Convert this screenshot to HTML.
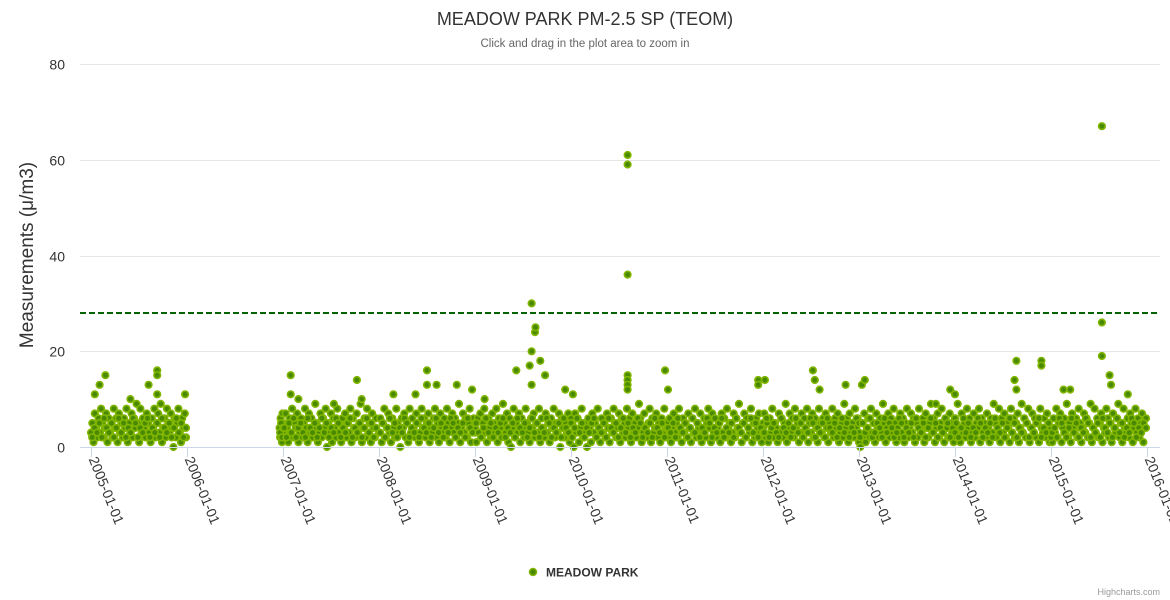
<!DOCTYPE html>
<html><head><meta charset="utf-8"><style>
html,body{margin:0;padding:0;background:#fff;}
svg{display:block;font-family:"Liberation Sans",sans-serif;}
</style></head><body>
<svg id="chart" width="1170" height="600" viewBox="0 0 1170 600" xmlns="http://www.w3.org/2000/svg">
<rect width="1170" height="600" fill="#fff"/>
<text x="585" y="25" text-anchor="middle" font-size="18" fill="#333">MEADOW PARK PM-2.5 SP (TEOM)</text>
<text x="585" y="47" text-anchor="middle" font-size="11.5" fill="#666">Click and drag in the plot area to zoom in</text>
<g id="grid"></g>
<g id="yticks"></g>
<text transform="translate(33,255) rotate(-90)" text-anchor="middle" font-size="19" fill="#333">Measurements (μ/m3)</text>
<line id="threshold" stroke="#006400" stroke-width="2" stroke-dasharray="6,3"/>
<g id="points"></g>
<line x1="80" y1="447.5" x2="1160" y2="447.5" stroke="#ccd6eb" stroke-width="1"/>
<g id="xticks"></g>
<g>
<circle cx="533" cy="572" r="3.5" fill="#4a8a00" stroke="#80b500" stroke-width="1.5"/>
<text x="546" y="576.5" font-size="12" font-weight="bold" fill="#333">MEADOW PARK</text>
</g>
<text x="1160" y="595" text-anchor="end" font-size="9" fill="#999">Highcharts.com</text>
</svg>
<script>
const yTicks = [0, 20, 40, 60, 80];
const xTickLabels = ["2005-01-01","2006-01-01","2007-01-01","2008-01-01","2009-01-01","2010-01-01","2011-01-01","2012-01-01","2013-01-01","2014-01-01","2015-01-01","2016-01-01"];
const thresholdValue = 28;
const seriesYears = [2005, 2006, 2007, 2008, 2009, 2010, 2011, 2012, 2013, 2014, 2015];
const seriesStart = [0.0, 0.965, 0.0, 0.0, 0.0, 0.0, 0.0, 0.0, 0.0, 0.0, 0.0];
const seriesEnd = [0.99, 1.0, 0.97, 1.0, 1.0, 1.0, 1.0, 1.0, 1.0, 1.0, 0.99];
const v2005 = [3,5,1,7,4,2,6,3,8,5,2,4,7,1,6,3,5,2,8,4,6,1,7,3,5,2,6,4,8,1,5,3,7,2,6,4,9,5,1,8,3,6,4,2,7,5,3,1,6,4,8,2,5,7,3,9,1,4,6,2,8,5,3,7,4,0,6,2,5,8,3,1,6,4,7,2];
const v2006 = [4,2,6,3,5,1,7,3];
const v2007 = [5,2,7,4,1,6,3,8,2,5,4,7,1,3,6,2,5,8,4,1,7,3,6,2,4,9,5,1,3,7,2,6,4,8,0,5,3,7,1,6,4,2,8,3,5,1,6,4,7,2,5,3,8,1,6,4,2,7,3,5,9,1,4,6,2,8,3,5,1,7,4,2,6];
const v2008 = [3,6,1,5,8,2,4,7,3,1,6,4,2,8,5,3,0,6,4,7,2,5,1,8,3,6,4,2,7,5,1,3,8,4,6,2,5,7,1,4,3,6,8,2,5,1,7,4,3,6,2,8,5,1,4,7,3,6,2,5,9,1,4,7,3,6,2,5,8,1,4,6,3];
const v2009 = [4,1,6,3,7,2,5,8,3,1,6,4,2,7,5,3,8,1,6,4,2,9,5,3,7,1,6,0,4,8,2,5,3,7,1,6,4,2,8,5,3,1,6,4,7,2,5,3,8,1,6,4,2,7,3,5,1,6,4,8,2,5,3,7,0,6,4,2,5,3,7,1,6];
const v2010 = [2,5,0,7,3,6,1,4,8,2,5,3,0,6,4,1,7,3,5,2,8,4,1,6,3,5,2,7,4,1,6,3,8,5,2,4,7,1,6,3,5,2,8,4,6,1,7,3,5,2,4,9,6,1,3,7,4,2,5,8,1,6,3,4,7,2,5,1,6,3,8,4,2];
const v2011 = [5,2,6,1,4,7,3,5,2,8,4,1,6,3,5,2,7,4,1,6,3,8,2,5,4,7,1,3,6,2,5,8,4,1,7,3,6,2,4,5,1,7,3,6,2,8,4,5,1,3,7,2,6,4,9,3,1,5,7,2,6,4,3,8,1,5,2,6,4,7,3,1,5];
const v2012 = [4,7,2,5,1,6,3,8,2,5,4,1,7,3,6,2,5,9,1,4,7,3,6,2,8,4,5,1,3,7,2,6,4,8,1,5,3,7,2,6,4,1,8,5,3,6,2,7,4,1,5,3,8,2,6,4,7,1,3,5,2,9,4,6,1,7,3,5,2,8,4,6,1];
const v2013 = [3,0,5,2,7,1,4,6,2,8,3,5,1,7,4,2,6,3,9,5,1,4,7,2,6,3,8,5,1,4,2,7,3,6,1,5,8,2,4,7,3,6,1,5,2,8,4,3,6,1,7,4,2,5,9,3,6,1,4,7,2,5,8,3,1,6,4,2,7,5,3,1,6];
const v2014 = [6,2,9,4,1,7,3,5,2,8,4,6,1,3,7,2,5,4,8,1,6,3,5,2,7,4,1,6,3,9,5,2,4,8,1,6,3,7,2,5,4,1,8,3,6,2,5,7,1,4,9,3,6,2,5,8,1,4,7,3,6,2,5,1,8,4,3,6,2,7,5,1,4];
const v2015 = [4,1,6,3,8,2,5,7,1,4,6,3,9,2,5,1,7,4,3,6,2,8,5,1,4,7,3,6,2,5,9,1,4,8,3,6,2,5,7,1,4,3,8,6,2,5,1,7,4,3,6,9,2,5,1,8,4,3,6,2,7,5,1,4,8,3,6,2,5,7,1,4,6];
const yearValues = [v2005, v2006, v2007, v2008, v2009, v2010, v2011, v2012, v2013, v2014, v2015];
const w2005 = [2,4,3,5,2,6,4,3,5,2,4,6,3,5,2,4,3,6,5,2,4,3,5,6,2,4,3,5,2,6,4,3,5,2,4,6,3,5,2,4];
const w2006 = [3,5,2,4];
const w2007 = [4,2,5,3,6,2,4,5,3,2,6,4,3,5,2,4,6,3,5,2,4,3,6,5,2,4,3,5,6,2,4,3,5,2,4,6,3,5,2,4];
const w2008 = [3,5,2,4,6,3,5,2,4,3,6,5,2,4,3,5,2,6,4,3,5,2,4,6,3,5,2,4,3,6,5,2,4,3,5,2,6,4,3,5];
const w2009 = [5,3,2,4,6,3,5,2,4,3,5,6,2,4,3,5,2,6,4,3,5,2,4,6,3,5,2,4,3,6,5,2,4,3,5,2,6,4,3,5];
const w2010 = [2,4,6,3,5,2,4,3,5,6,2,4,3,5,2,6,4,3,5,2,4,6,3,5,2,4,3,6,5,2,4,3,5,2,6,4,3,5,2,4];
const w2011 = [4,3,5,2,6,4,3,5,2,4,6,3,5,2,4,3,6,5,2,4,3,5,6,2,4,3,5,2,6,4,3,5,2,4,6,3,5,2,4,3];
const w2012 = [3,6,2,4,5,3,2,6,4,3,5,2,4,6,3,5,2,4,3,6,5,2,4,3,5,2,6,4,3,5,2,4,6,3,5,2,4,3,6,5];
const w2013 = [2,5,3,4,6,2,3,5,4,2,6,3,5,4,2,3,6,5,2,4,3,5,2,6,4,3,5,2,4,6,3,5,2,4,3,6,5,2,4,3];
const w2014 = [5,2,4,6,3,5,2,4,3,6,5,2,4,3,5,2,6,4,3,5,2,4,6,3,5,2,4,3,6,5,2,4,3,5,6,2,4,3,5,2];
const w2015 = [3,4,2,6,5,3,2,4,6,3,5,2,4,3,6,5,2,4,3,5,2,6,4,3,5,2,4,6,3,5,2,4,3,6,5,2,4,3,5,4];
const extraValues = [w2005, w2006, w2007, w2008, w2009, w2010, w2011, w2012, w2013, w2014, w2015];
const spikeDates = [2005.04,2005.09,2005.15,2005.41,2005.6,2005.69,2005.69,2005.69,2005.98,2007.08,2007.08,2007.16,2007.53,2007.77,2007.82,2008.15,2008.38,2008.5,2008.5,2008.6,2008.81,2008.97,2009.10,2009.43,2009.57,2009.59,2009.59,2009.59,2009.625,2009.63,2009.68,2009.73,2009.94,2010.02,2010.59,2010.59,2010.59,2010.59,2010.59,2010.59,2010.59,2010.98,2011.01,2011.95,2011.95,2012.02,2012.52,2012.54,2012.59,2012.86,2013.03,2013.06,2013.8,2013.95,2014.0,2014.62,2014.64,2014.64,2014.9,2014.9,2015.13,2015.2,2015.53,2015.53,2015.53,2015.61,2015.625,2015.8];
const spikeValues = [11,13,15,10,13,16,15,11,11,15,11,10,9,14,10,11,11,16,13,13,13,12,10,16,17,30,20,13,24,25,18,15,12,11,61,59,36,15,14,13,12,16,12,14,13,14,16,14,12,13,13,14,9,12,11,14,18,12,18,17,12,12,67,26,19,15,13,11];

const NS = "http://www.w3.org/2000/svg";
const plotLeft = 80, plotRight = 1160, yZero = 447, yTop = 64, yMax = 80;
function yScale(v){ return yZero - v / yMax * (yZero - yTop); }
function xScale(t){ return 91 + (t - 2005) * 96.0; }

const grid = document.getElementById('grid');
const yt = document.getElementById('yticks');
yTicks.forEach(v => {
  const y = Math.round(yScale(v)) + 0.5;
  if (v > 0) {
    const l = document.createElementNS(NS, 'line');
    l.setAttribute('x1', plotLeft); l.setAttribute('x2', plotRight);
    l.setAttribute('y1', y); l.setAttribute('y2', y);
    l.setAttribute('stroke', '#e6e6e6');
    
    
    grid.appendChild(l);
  }
  const t = document.createElementNS(NS, 'text');
  t.setAttribute('x', 65); t.setAttribute('y', y + 5);
  t.setAttribute('text-anchor', 'end');
  t.setAttribute('font-size', '14'); t.setAttribute('fill', '#333');
  t.textContent = v;
  
  
  yt.appendChild(t);
});

const th = document.getElementById('threshold');
th.setAttribute('x1', plotLeft); th.setAttribute('x2', plotRight);
th.setAttribute('y1', yScale(thresholdValue)); th.setAttribute('y2', yScale(thresholdValue));

const xt = document.getElementById('xticks');
xTickLabels.forEach((lab, i) => {
  const x = Math.round(xScale(2005 + i)) + 0.5;
  const tk = document.createElementNS(NS, 'line');
  tk.setAttribute('x1', x); tk.setAttribute('x2', x);
  tk.setAttribute('y1', 447); tk.setAttribute('y2', 457);
  tk.setAttribute('stroke', '#ccd6eb');
  
  
  xt.appendChild(tk);
  const t = document.createElementNS(NS, 'text');
  t.setAttribute('transform', 'translate(' + (x - 3) + ',459) rotate(68)');
  t.setAttribute('font-size', '14'); t.setAttribute('fill', '#333');
  t.textContent = lab;
  
  
  xt.appendChild(t);
});

const pts = document.getElementById('points');
function addPoint(t, v){
  const c = document.createElementNS(NS, 'circle');
  c.setAttribute('cx', xScale(t).toFixed(1));
  c.setAttribute('cy', yScale(v).toFixed(1));
  c.setAttribute('r', '3.3');
  c.setAttribute('fill', '#4a8a00');
  c.setAttribute('stroke', '#80b500');
  c.setAttribute('stroke-width', '1.6');
  
  
  pts.appendChild(c);
}
function plotYears(list, shift){
  list.forEach((arr, k) => {
    const s = seriesStart[k], e = seriesEnd[k];
    arr.forEach((v, i) => {
      const f = arr.length > 1 ? s + (e - s) * (i + shift) / (arr.length - 1 + shift) : s;
      addPoint(seriesYears[k] + f, v);
    });
  });
}
plotYears(yearValues, 0);
plotYears(extraValues, 0.5);
spikeDates.forEach((t, i) => addPoint(t, spikeValues[i]));
</script>
</body></html>
